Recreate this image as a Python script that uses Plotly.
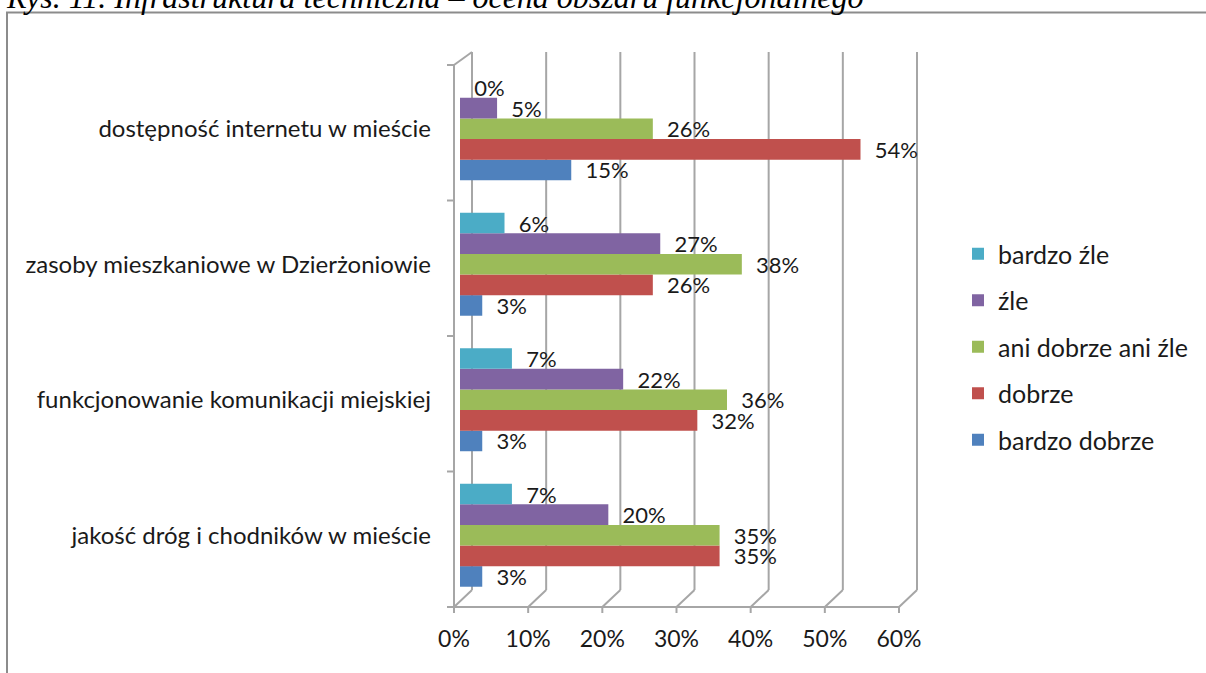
import plotly.graph_objects as go

# ---- data ----
categories = [
    "jakość dróg i chodników w mieście",
    "funkcjonowanie komunikacji miejskiej",
    "zasoby mieszkaniowe w Dzierżoniowie",
    "dostępność internetu w mieście",
]
series_names = ["bardzo dobrze", "dobrze", "ani dobrze ani źle", "źle", "bardzo źle"]
bardzo_dobrze = [3, 3, 3, 15]
dobrze = [35, 32, 26, 54]
ani_dobrze_ani_zle = [35, 36, 38, 26]
zle = [20, 22, 27, 5]
bardzo_zle = [7, 7, 6, 0]
series_values = [bardzo_dobrze, dobrze, ani_dobrze_ani_zle, zle, bardzo_zle]
series_colors = ["#4F81BD", "#C0504D", "#9BBB59", "#8064A2", "#4BACC6"]
legend_ranks = [5, 4, 3, 2, 1]
x_ticks = [0, 10, 20, 30, 40, 50, 60]
x_ticktext = ["0%", "10%", "20%", "30%", "40%", "50%", "60%"]
caption = "Rys. 11. Infrastruktura techniczna – ocena obszaru funkcjonalnego"

# ---- layout geometry (pixels) ----
W, H = 1206, 673
L, R, T, B = 460, 905, 61, 603
PW, PH = R - L, B - T
XMAX = 60
FONT = "Lato"
TXT = "#1a1a1a"
GRID = "#a6a6a6"


def px_x(p):
    return (p - L) / PW


def px_y(p):
    return (B - p) / PH


def vx(v, off=0.0):
    return v / XMAX + off / PW


fig = go.Figure()
for name, vals, col, rank in zip(series_names, series_values, series_colors, legend_ranks):
    fig.add_trace(go.Bar(
        y=categories, x=vals, name=name, orientation="h",
        marker=dict(color=col, line=dict(width=0)),
        text=["\u00a0\u00a0" + str(v) + "%" for v in vals],
        texttemplate="%{text}", textposition="outside",
        textfont=dict(family=FONT, size=22, color=TXT),
        constraintext="none", cliponaxis=False,
        legendgroup=name, legendrank=rank,
        hoverinfo="skip",
    ))

shapes = []
line = dict(color=GRID, width=2)
# back wall verticals, floor diagonals and front ticks
for v in x_ticks:
    shapes.append(dict(type="line", xref="paper", yref="paper",
                       x0=vx(v, 12), x1=vx(v, 12), y0=px_y(52), y1=px_y(590), line=line, layer="below"))
    shapes.append(dict(type="line", xref="paper", yref="paper",
                       x0=vx(v, 12), x1=vx(v, -6), y0=px_y(590), y1=px_y(607), line=line, layer="below"))
    shapes.append(dict(type="line", xref="paper", yref="paper",
                       x0=vx(v, -6), x1=vx(v, -6), y0=px_y(607), y1=px_y(613), line=line, layer="below"))
# front floor axis
shapes.append(dict(type="line", xref="paper", yref="paper",
                   x0=px_x(447), x1=vx(XMAX, -6), y0=px_y(607), y1=px_y(607), line=line, layer="below"))
# left front axis + top diagonal
shapes.append(dict(type="line", xref="paper", yref="paper",
                   x0=vx(0, -6), x1=vx(0, -6), y0=px_y(65), y1=px_y(613), line=line, layer="below"))
shapes.append(dict(type="line", xref="paper", yref="paper",
                   x0=vx(0, -6), x1=vx(0, 12), y0=px_y(65), y1=px_y(52), line=line, layer="below"))
# category ticks
for i in range(len(categories) + 1):
    yy = 65 + i * (607 - 65) / len(categories)
    shapes.append(dict(type="line", xref="paper", yref="paper",
                       x0=px_x(447), x1=vx(0, -6), y0=px_y(yy), y1=px_y(yy), line=line, layer="below"))
# outer frame
shapes.append(dict(type="rect", xref="paper", yref="paper",
                   x0=px_x(7), x1=px_x(1230), y0=px_y(12.5), y1=px_y(700),
                   line=dict(color="#8c8c8c", width=2), layer="below"))

fig.update_layout(
    width=W, height=H,
    margin=dict(l=L, r=W - R, t=T, b=H - B),
    paper_bgcolor="white", plot_bgcolor="rgba(0,0,0,0)",
    barmode="group", bargap=0.24, bargroupgap=0,
    showlegend=True,
    legend=dict(
        x=px_x(958), y=px_y(231), xanchor="left", yanchor="top",
        traceorder="grouped", tracegroupgap=11,
        font=dict(family=FONT, size=25, color=TXT),
        bgcolor="rgba(0,0,0,0)",
    ),
    xaxis=dict(
        range=[0, XMAX], tickvals=x_ticks, ticktext=x_ticktext,
        showgrid=False, zeroline=False, showline=False, ticks="",
        tickfont=dict(family=FONT, size=23, color=TXT),
        ticklabelshift=-6, ticklabelstandoff=20,
    ),
    yaxis=dict(
        type="category", categoryorder="array", categoryarray=categories,
        range=[-0.5, len(categories) - 0.5],
        showgrid=False, zeroline=False, showline=False, ticks="",
        tickfont=dict(family=FONT, size=24, color=TXT),
        ticklabelstandoff=28,
    ),
    shapes=shapes,
    annotations=[dict(
        text="<i>" + caption + "</i>", xref="paper", yref="paper",
        x=px_x(4), y=px_y(17), xanchor="left", yanchor="bottom",
        showarrow=False, font=dict(family="Liberation Serif", size=32, color="#000"),
    )],
)

fig.write_html(
    "out.html",
    config={"displayModeBar": False},
    post_script="document.body.style.margin='0';document.body.style.overflow='hidden';",
)
